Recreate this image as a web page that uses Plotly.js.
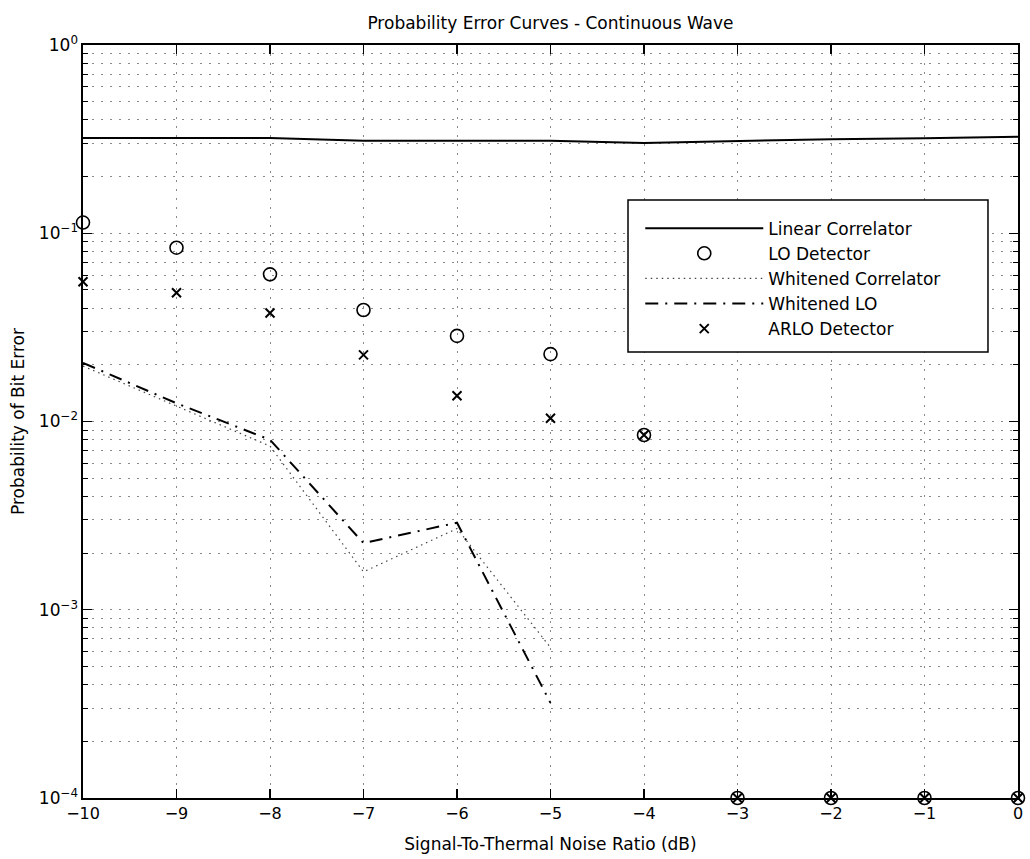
<!DOCTYPE html>
<html>
<head>
<meta charset="utf-8">
<script src="https://cdn.plot.ly/plotly-3.0.1.min.js"></script>
<style>html,body{margin:0;padding:0;background:#fff;}#chart{width:1030px;height:859px;}</style>
</head>
<body>
<div id="chart"></div>
<script>
// Data
const snr = [-10, -9, -8, -7, -6, -5, -4, -3, -2, -1, 0];
const linearCorrelator = [0.321, 0.321, 0.321, 0.310, 0.310, 0.310, 0.302, 0.310, 0.316, 0.320, 0.326];
const loDetector = [0.114, 0.0838, 0.0605, 0.0391, 0.0285, 0.0228, 0.00848, 1e-4, 1e-4, 1e-4, 1e-4];
const whitenedCorrelator = [0.0197, 0.0121, 0.0074, 0.00159, 0.0027, 0.00063, null, null, null, null, null];
const whitenedLO = [0.0205, 0.0125, 0.0080, 0.00226, 0.0029, 0.00032, null, null, null, null, null];
const arloDetector = [0.0553, 0.0483, 0.0377, 0.0226, 0.0137, 0.0104, 0.00848, 1e-4, 1e-4, 1e-4, 1e-4];
const xTickVals = [-10, -9, -8, -7, -6, -5, -4, -3, -2, -1, 0];
const yTickVals = [1e-4, 1e-3, 1e-2, 1e-1, 1];
const yTickText = ['10<sup>\u22124</sup>', '10<sup>\u22123</sup>', '10<sup>\u22122</sup>', '10<sup>\u22121</sup>', '10<sup>0</sup>'];

const FONT = 'DejaVu Sans, Liberation Sans, Arial, sans-serif';
const GRID = '#8a8a8a';
const GDASH = '1.5px,7.5px';

const traces = [
  {x: snr, y: linearCorrelator, name: 'Linear Correlator', type: 'scatter', mode: 'lines',
   line: {color: 'black', width: 2}},
  {x: snr, y: loDetector, name: 'LO Detector', type: 'scatter', mode: 'markers', cliponaxis: false,
   marker: {symbol: 'circle-open', size: 13, color: 'black', line: {color: 'black', width: 1.6}}},
  {x: snr, y: whitenedCorrelator, name: 'Whitened Correlator', type: 'scatter', mode: 'lines',
   line: {color: '#444', width: 1.2, dash: '1.5px,4px'}},
  {x: snr, y: whitenedLO, name: 'Whitened LO', type: 'scatter', mode: 'lines',
   line: {color: 'black', width: 2, dash: '13px,7px,2px,7px'}},
  {x: snr, y: arloDetector, name: 'ARLO Detector', type: 'scatter', mode: 'markers', cliponaxis: false,
   marker: {symbol: 'x-thin-open', size: 9, color: 'black', line: {color: 'black', width: 2}}}
];

const layout = {
  width: 1030, height: 859,
  margin: {l: 83, r: 12, t: 45, b: 61},
  paper_bgcolor: 'white', plot_bgcolor: 'white',
  font: {family: FONT, color: 'black', size: 16},
  showlegend: true,
  title: {text: 'Probability Error Curves - Continuous Wave', font: {family: FONT, size: 17, color: 'black'},
          x: 0.5, xref: 'paper', y: 0.9736, yref: 'container', yanchor: 'middle'},
  xaxis: {
    range: [-10, 0], tickvals: xTickVals, ticks: 'inside', ticklen: 9, tickwidth: 1.2, tickcolor: 'black',
    showline: true, linecolor: 'black', linewidth: 1.6, mirror: 'allticks',
    showgrid: true, gridcolor: GRID, gridwidth: 1, griddash: GDASH, zeroline: false,
    tickfont: {family: FONT, size: 16},
    title: {text: 'Signal-To-Thermal Noise Ratio (dB)', font: {family: FONT, size: 17}, standoff: 16}
  },
  yaxis: {
    type: 'log', range: [-4, 0], tickvals: yTickVals, ticktext: yTickText,
    ticks: 'inside', ticklen: 9, tickwidth: 1.2, tickcolor: 'black',
    showline: true, linecolor: 'black', linewidth: 1.6, mirror: 'allticks',
    showgrid: true, gridcolor: GRID, gridwidth: 1, griddash: GDASH, zeroline: false,
    tickfont: {family: FONT, size: 17},
    minor: {dtick: 'D1', ticks: 'inside', ticklen: 5, tickwidth: 1, tickcolor: 'black',
            showgrid: true, gridcolor: GRID, gridwidth: 1, griddash: GDASH},
    title: {text: 'Probability of Bit Error', font: {family: FONT, size: 17}, standoff: 10}
  },
  shapes: [
    {type: 'rect', xref: 'paper', yref: 'paper', x0: 0.5829, x1: 0.9679, y0: 0.5923, y1: 0.7942,
     line: {color: 'black', width: 1.5}, fillcolor: 'white', layer: 'above'}
  ],
  legend: {
    x: 0.596, y: 0.780, xanchor: 'left', yanchor: 'top',
    bgcolor: 'rgba(0,0,0,0)', borderwidth: 0,
    font: {family: FONT, size: 17, color: 'black'},
    itemwidth: 118, tracegroupgap: 0
  }
};

Plotly.newPlot('chart', traces, layout, {displayModeBar: false, staticPlot: true});
</script>
</body>
</html>
